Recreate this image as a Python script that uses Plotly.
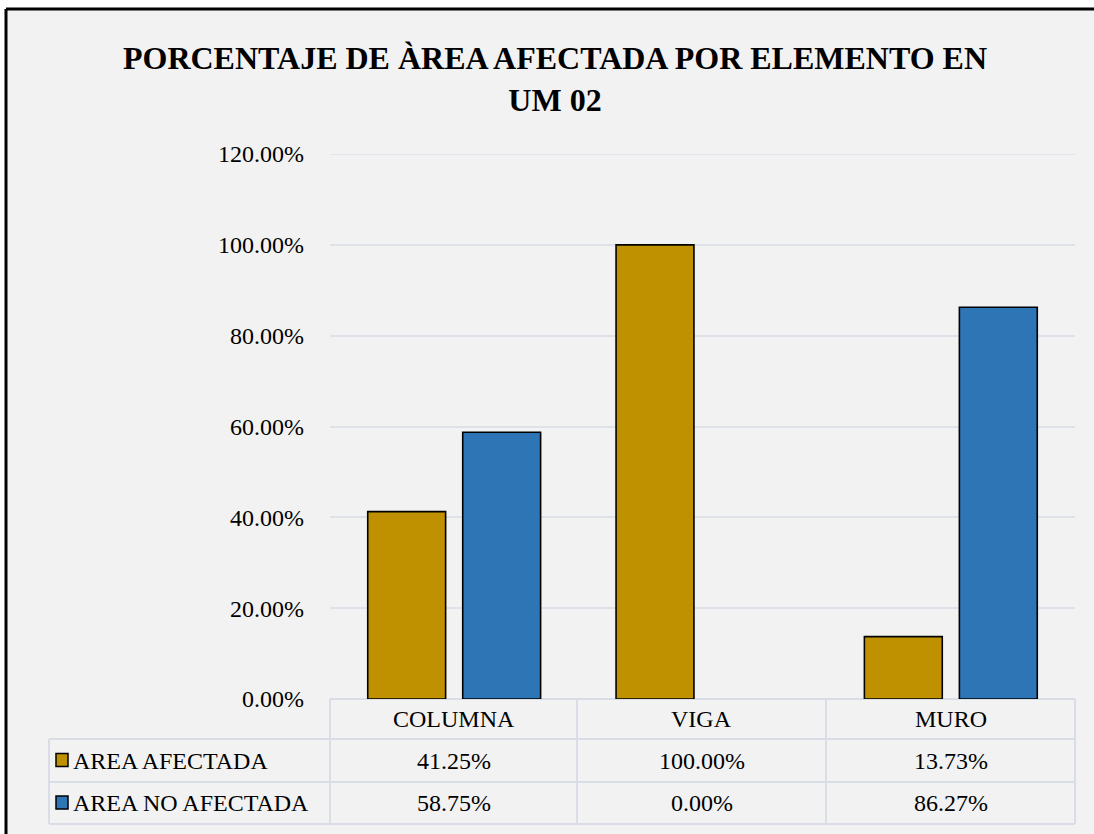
import plotly.graph_objects as go

# datos
categorias = ["COLUMNA", "VIGA", "MURO"]
area_afectada = [0.4125, 1.0, 0.1373]
area_no_afectada = [0.5875, 0.0, 0.8627]
series = ["AREA AFECTADA", "AREA NO AFECTADA"]
colores = ["#BF9000", "#2E75B6"]

W, H = 1094, 834
L, R, T, B = 330, 1075, 154, 699   # area de trazado en px
FUENTE = "Liberation Serif, Times New Roman, serif"
FONDO = "#F2F2F2"


def px_x(p):
    return (p - L) / (R - L)


def px_y(p):
    return (B - p) / (B - T)


fig = go.Figure()
for nom, vals, col in zip(series, [area_afectada, area_no_afectada], colores):
    fig.add_trace(go.Bar(
        x=categorias, y=vals, name=nom,
        marker=dict(color=col, line=dict(color="black", width=[1.6 if v > 0 else 0 for v in vals])),
    ))

fig.update_layout(
    width=W, height=H,
    margin=dict(l=L, r=W - R, t=T, b=H - B),
    paper_bgcolor="white", plot_bgcolor=FONDO,
    barmode="group", bargap=0.235, bargroupgap=0.18,
    showlegend=False,
    font=dict(family=FUENTE, size=24, color="black"),
    title=dict(
        text="<b>PORCENTAJE DE ÀREA AFECTADA POR ELEMENTO EN<br>UM 02</b>",
        x=555 / W, xref="container", xanchor="center",
        y=1 - 69 / H, yanchor="top",
        font=dict(family=FUENTE, size=32, color="black"),
    ),
)
fig.update_yaxes(
    range=[0, 1.2], dtick=0.2, tickformat=".2%",
    showgrid=True, gridcolor="#DDE1E8", gridwidth=1.5,
    zeroline=False, showline=False, ticks="", ticklabelstandoff=25,
    tickfont=dict(family=FUENTE, size=24),
)
fig.update_xaxes(showticklabels=False, showgrid=False, zeroline=False, showline=False, ticks="")

# fondo gris del area del grafico (fuera del borde queda blanco)
fig.add_shape(type="rect", xref="paper", yref="paper",
              x0=px_x(6), y0=px_y(9), x1=px_x(1300), y1=px_y(1000),
              fillcolor=FONDO, line=dict(width=0), layer="below")

# linea de cuadricula superior (120%)
fig.add_shape(type="line", xref="paper", yref="y", x0=0, x1=1, y0=1.2, y1=1.2,
              line=dict(color="#DDE1E8", width=1.5), layer="below")

# tabla de datos (estilo Excel)
gris = "#D9DEE6"
filas_y = [699, 739, 782, 824]
cols_x = [330, 577, 826, 1075]
izq = 49
lineas = []
lineas.append((cols_x[0], filas_y[0], cols_x[-1], filas_y[0]))
for fy in filas_y[1:]:
    lineas.append((izq, fy, cols_x[-1], fy))
for cx in cols_x:
    lineas.append((cx, filas_y[0], cx, filas_y[-1]))
lineas.append((izq, filas_y[1], izq, filas_y[-1]))
for x0, y0, x1, y1 in lineas:
    fig.add_shape(type="line", xref="paper", yref="paper",
                  x0=px_x(x0), y0=px_y(y0), x1=px_x(x1), y1=px_y(y1),
                  line=dict(color=gris, width=2), layer="below")

centros_x = [(cols_x[i] + cols_x[i + 1]) / 2 for i in range(3)]
centros_y = [(filas_y[i] + filas_y[i + 1]) / 2 for i in range(3)]

for cat, cx in zip(categorias, centros_x):
    fig.add_annotation(text=cat, xref="paper", yref="paper", x=px_x(cx), y=px_y(centros_y[0]),
                       showarrow=False, xanchor="center", yanchor="middle")

for i, (nom, vals, col) in enumerate(zip(series, [area_afectada, area_no_afectada], colores)):
    cy = centros_y[i + 1]
    fig.add_shape(type="rect", xref="paper", yref="paper",
                  x0=px_x(56), x1=px_x(68), y0=px_y(cy - 7), y1=px_y(cy + 6),
                  fillcolor=col, line=dict(color="black", width=1.5))
    fig.add_annotation(text=nom, xref="paper", yref="paper", x=px_x(71), y=px_y(cy),
                       showarrow=False, xanchor="left", yanchor="middle")
    for v, cx in zip(vals, centros_x):
        fig.add_annotation(text=f"{v * 100:.2f}%", xref="paper", yref="paper",
                           x=px_x(cx), y=px_y(cy), showarrow=False,
                           xanchor="center", yanchor="middle")

# borde del grafico: solo izquierda y arriba quedan dentro de la imagen
fig.add_shape(type="line", xref="paper", yref="paper",
              x0=px_x(6), y0=px_y(1000), x1=px_x(6), y1=px_y(9),
              line=dict(color="black", width=3))
fig.add_shape(type="line", xref="paper", yref="paper",
              x0=px_x(6), y0=px_y(9), x1=px_x(1300), y1=px_y(9),
              line=dict(color="black", width=3))

fig.write_html("out.html", config={"displayModeBar": False},
               post_script="document.body.style.margin='0';document.body.style.overflow='hidden';")
